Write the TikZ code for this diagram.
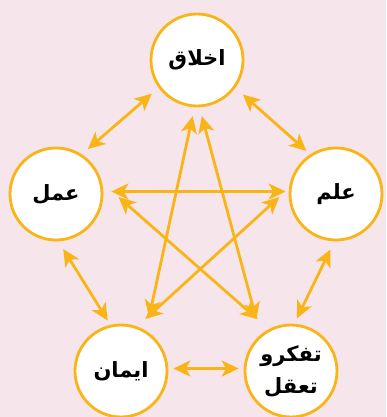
\documentclass[tikz,border=0pt]{standalone}
\usepackage{fontspec}
\newfontfamily\arabicfont[Script=Arabic]{DejaVu Sans}
\TeXXeTstate=1
\usepackage{tikz}
\usetikzlibrary{arrows.meta}
\usepackage{xcolor}
\definecolor{gold}{RGB}{249,181,24}
\definecolor{pinkbg}{RGB}{246,230,235}
\tikzset{
  virtue/.style={circle, draw=gold, line width=2.8pt, fill=white, minimum size=92pt, inner sep=0pt, align=center, font=\arabicfont\bfseries\fontsize{21}{26}\selectfont},
  link/.style={{Stealth[length=17pt,width=16pt,inset=4.5pt]}-{Stealth[length=17pt,width=16pt,inset=4.5pt]}, draw=gold, line width=2.8pt}
}

\begin{document}
\begin{tikzpicture}[x=1pt,y=-1pt]
\fill[pinkbg] (0,0) rectangle (386,417);
\useasboundingbox (0,0) rectangle (386,417);
\node[virtue] (akhlagh) at (197,60) {\beginR اخلاق\endR};
\node[virtue] (amal) at (56,194) {\beginR عمل\endR};
\node[virtue] (elm) at (336,194) {\beginR علم\endR};
\node[virtue] (iman) at (121,371) {\beginR ایمان\endR};
\node[virtue] (tafakor) at (291,371) {\beginR تفکرو\endR\\[6pt]\beginR تعقل\endR};
\draw[link, shorten <=8pt, shorten >=9pt] (amal.57) -- (akhlagh.216);
\draw[link, shorten <=10pt, shorten >=5pt] (akhlagh.324) -- (elm.123);
\draw[link, shorten <=9pt, shorten >=5pt] (amal.273) -- (iman.103);
\draw[link, shorten <=9pt, shorten >=6pt] (elm.268) -- (tafakor.86);
\draw[link, shorten <=5pt, shorten >=5pt] (iman.3) -- (tafakor.177);
\draw[link, shorten <=8pt, shorten >=3pt] (amal.3) -- (elm.177);
\draw[link, shorten <=22pt, shorten >=15pt] (amal.14) -- (tafakor.118);
\draw[link, shorten <=13pt, shorten >=11pt] (elm.173) -- (iman.70);
\draw[link, shorten <=9pt, shorten >=14pt] (akhlagh.267) -- (iman.58);
\draw[link, shorten <=9pt, shorten >=16pt] (akhlagh.273) -- (tafakor.130);
\end{tikzpicture}
\end{document}
